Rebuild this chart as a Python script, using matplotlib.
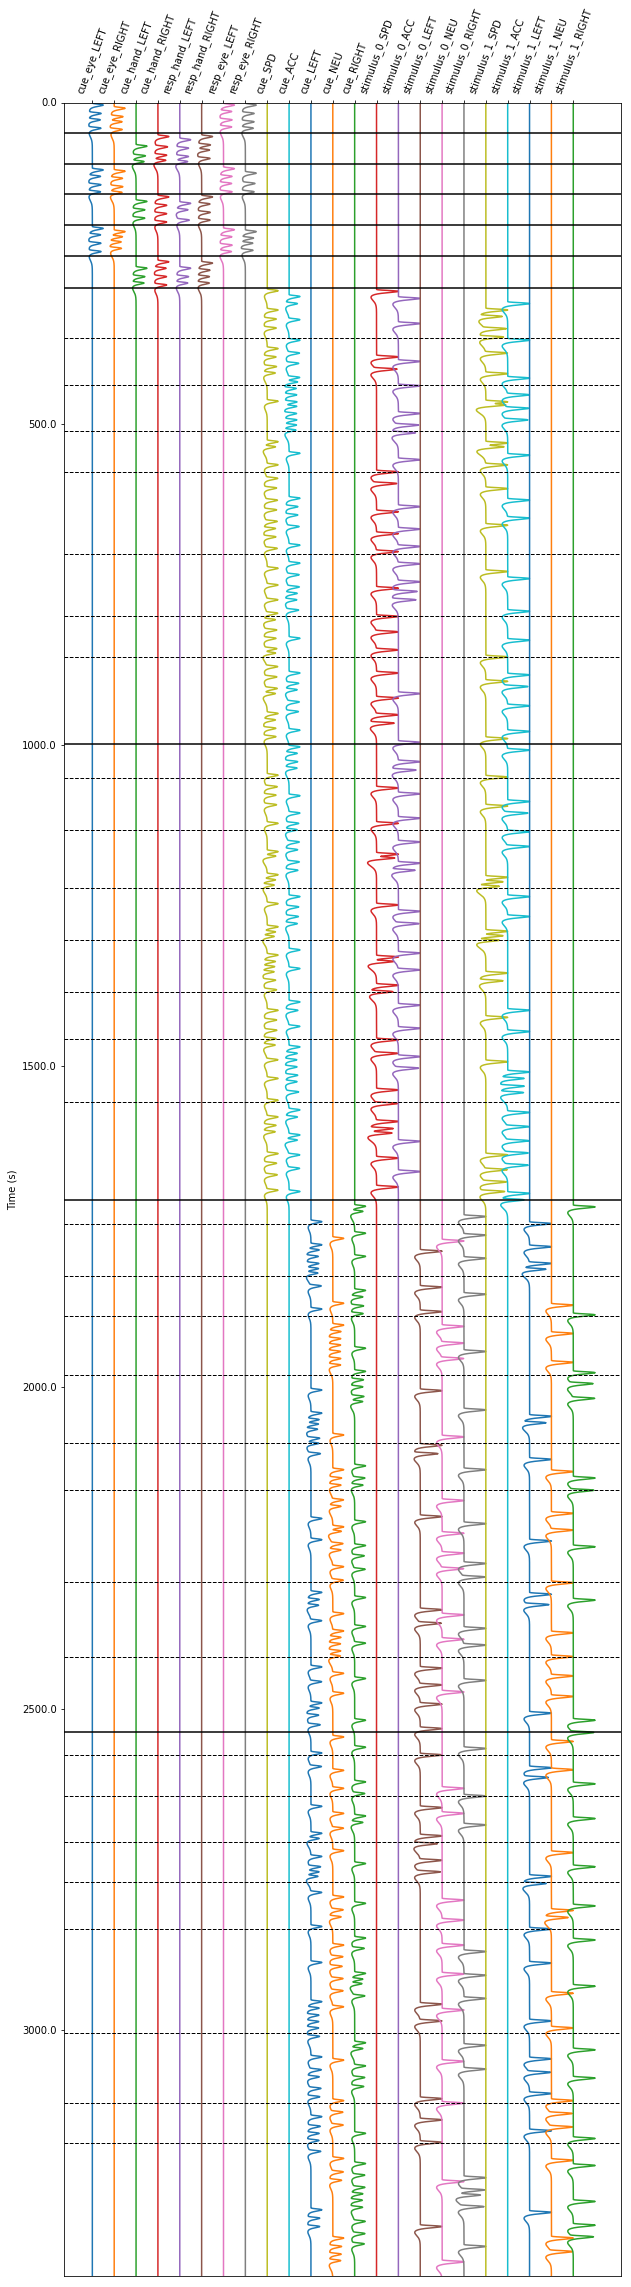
import math
import numpy as np
import matplotlib
matplotlib.use('Agg')
import matplotlib.pyplot as plt

# Regressor names (one column each)
regressors = ['cue_eye_LEFT', 'cue_eye_RIGHT', 'cue_hand_LEFT', 'cue_hand_RIGHT',
              'resp_hand_LEFT', 'resp_hand_RIGHT', 'resp_eye_LEFT', 'resp_eye_RIGHT',
              'cue_SPD', 'cue_ACC', 'cue_LEFT', 'cue_NEU', 'cue_RIGHT',
              'stimulus_0_SPD', 'stimulus_0_ACC', 'stimulus_0_LEFT', 'stimulus_0_NEU',
              'stimulus_0_RIGHT', 'stimulus_1_SPD', 'stimulus_1_ACC', 'stimulus_1_LEFT',
              'stimulus_1_NEU', 'stimulus_1_RIGHT']

# Response peak times (s), per regressor
cue_eye_LEFT = [4, 17, 27, 40, 105, 115, 128, 139, 196, 206, 219, 232]
cue_eye_RIGHT = [9, 22, 30, 42, 107, 118, 131, 140, 201, 209, 217, 227]
cue_hand_LEFT = [68, 83, 92, 154, 167, 180, 258, 271, 281]
cue_hand_RIGHT = [53, 69, 82, 90, 147, 160, 173, 186, 248, 258, 271, 284]
resp_hand_LEFT = [58, 71, 84, 92, 157, 167, 183, 258, 271, 281]
resp_hand_RIGHT = [53, 66, 74, 87, 147, 158, 171, 183, 250, 261, 271, 281]
resp_eye_LEFT = [4, 14, 27, 38, 103, 115, 126, 139, 198, 209, 222, 232]
resp_eye_RIGHT = [4, 17, 30, 40, 110, 126, 139, 201, 211, 219, 230]
cue_SPD = [293, 323, 337, 351, 383, 396, 411, 421, 465, 528, 536, 564, 585, 600, 619, 634,
           652, 663, 676, 694, 725, 751, 774, 795, 805, 821, 834, 850, 857, 878, 894, 912,
           920, 951, 961, 974, 987, 1047, 1065, 1078, 1093, 1122, 1166, 1173, 1202, 1210,
           1218, 1247, 1283, 1291, 1298, 1327, 1337, 1345, 1353, 1366, 1381, 1413, 1428,
           1444, 1457, 1467, 1490, 1519, 1553, 1579, 1592, 1602, 1636, 1651, 1669, 1693]
cue_ACC = [302, 313, 338, 370, 390, 406, 428, 435, 445, 455, 466, 473, 484, 494, 502, 510,
           546, 616, 629, 642, 660, 689, 717, 735, 754, 764, 774, 790, 834, 888, 904, 914,
           933, 948, 977, 1003, 1013, 1026, 1036, 1079, 1106, 1122, 1132, 1151, 1163, 1182,
           1195, 1236, 1252, 1267, 1278, 1319, 1348, 1400, 1413, 1438, 1470, 1480, 1490,
           1501, 1514, 1524, 1540, 1568, 1579, 1607, 1615, 1638, 1659, 1695]
cue_LEFT = [1742, 1778, 1786, 1796, 1807, 1815, 1822, 1842, 1878, 2004, 2040, 2050, 2057,
            2065, 2079, 2087, 2103, 2204, 2237, 2319, 2330, 2339, 2363, 2435, 2458, 2491,
            2499, 2510, 2525, 2569, 2590, 2652, 2694, 2702, 2730, 2746, 2754, 2761, 2786,
            2839, 2895, 2956, 2966, 2977, 2987, 2997, 3010, 3042, 3062, 3073, 3091, 3104,
            3135, 3150, 3161, 3172, 3189, 3280, 3293, 3306]
cue_NEU = [1768, 1869, 1903, 1913, 1924, 1934, 1944, 1955, 1965, 2074, 2128, 2141, 2152,
           2175, 2185, 2217, 2224, 2243, 2253, 2279, 2300, 2352, 2379, 2389, 2399, 2410,
           2418, 2445, 2476, 2544, 2596, 2624, 2663, 2686, 2721, 2793, 2813, 2824, 2868,
           2886, 2901, 2920, 2939, 2964, 3047, 3110, 3128, 3148, 3200, 3221, 3234, 3324,
           3337, 3349, 3359]
cue_RIGHT = [1718, 1726, 1760, 1796, 1849, 1859, 1873, 1885, 1939, 1975, 1988, 1999, 2014,
             2022, 2122, 2141, 2152, 2209, 2246, 2262, 2283, 2327, 2372, 2398, 2453, 2518,
             2560, 2614, 2632, 2667, 2677, 2741, 2803, 2857, 2873, 2912, 2921, 2928, 2947,
             3020, 3029, 3056, 3074, 3088, 3161, 3208, 3226, 3245, 3255, 3265, 3276, 3298,
             3317, 3333]
stimulus_0_SPD = [294, 396, 415, 575, 593, 637, 671, 699, 756, 800, 824, 852, 888, 927, 953,
                  966, 1067, 1122, 1170, 1176, 1249, 1330, 1337, 1374, 1384, 1459, 1480,
                  1537, 1558, 1586, 1597, 1604, 1643, 1688]
stimulus_0_ACC = [305, 344, 403, 441, 484, 502, 514, 556, 629, 664, 691, 718, 746, 761, 774,
                  920, 996, 1026, 1039, 1076, 1114, 1151, 1184, 1195, 1259, 1278, 1324, 1350,
                  1405, 1441, 1485, 1503, 1617, 1664]
stimulus_0_LEFT = [1788, 1844, 1882, 2005, 2090, 2103, 2201, 2346, 2367, 2437, 2463, 2493,
                   2531, 2572, 2654, 2698, 2710, 2736, 2754, 2960, 2986, 3107, 3140, 3175,
                   3306]
stimulus_0_NEU = [1772, 1905, 1931, 1955, 2077, 2176, 2227, 2258, 2282, 2354, 2392, 2474,
                  2624, 2663, 2798, 2829, 2868, 2913, 2969, 3049, 3114, 3236, 3361]
stimulus_0_RIGHT = [1734, 1763, 1799, 1855, 1944, 2035, 2128, 2212, 2274, 2295, 2375, 2401,
                    2456, 2562, 2636, 2681, 2878, 2915, 2951, 3024, 3061, 3230, 3249, 3257,
                    3275, 3337]
stimulus_1_SPD = [323, 333, 352, 365, 390, 422, 466, 471, 530, 536, 564, 601, 658, 730, 863,
                  901, 990, 1050, 1095, 1206, 1213, 1220, 1290, 1297, 1304, 1355, 1367, 1424,
                  1493, 1638, 1661, 1680, 1695]
stimulus_1_ACC = [313, 370, 429, 455, 476, 494, 549, 619, 647, 741, 792, 837, 891, 909, 939,
                  979, 1008, 1088, 1106, 1135, 1158, 1236, 1267, 1413, 1446, 1509, 1519, 1531,
                  1541, 1572, 1594, 1616, 1635, 1654, 1698, 1708]
stimulus_1_LEFT = [1745, 1781, 1807, 1816, 2045, 2055, 2112, 2239, 2322, 2338, 2507, 2592,
                   2607, 2761, 2772, 2843, 2896, 2986, 3045, 3066, 3099, 3157, 3284]
stimulus_1_NEU = [1872, 1916, 1961, 2131, 2196, 2222, 2304, 2382, 2419, 2449, 2481, 2551,
                  2595, 2724, 2814, 2825, 2943, 2997, 3110, 3130, 3151, 3203, 3324, 3345]
stimulus_1_RIGHT = [1719, 1887, 1977, 1994, 2017, 2141, 2160, 2248, 2331, 2518, 2537, 2617,
                    2671, 2746, 2807, 2860, 2932, 3031, 3075, 3169, 3211, 3267, 3304, 3322]

events = [cue_eye_LEFT, cue_eye_RIGHT, cue_hand_LEFT, cue_hand_RIGHT,
          resp_hand_LEFT, resp_hand_RIGHT, resp_eye_LEFT, resp_eye_RIGHT,
          cue_SPD, cue_ACC, cue_LEFT, cue_NEU, cue_RIGHT,
          stimulus_0_SPD, stimulus_0_ACC, stimulus_0_LEFT, stimulus_0_NEU, stimulus_0_RIGHT,
          stimulus_1_SPD, stimulus_1_ACC, stimulus_1_LEFT, stimulus_1_NEU, stimulus_1_RIGHT]

# Peak height of a single response, per regressor (fraction of column spacing)
peak_height = [0.5] * 13 + [1.0] * 10

# Run boundaries (solid) and block boundaries (dashed), in seconds
run_lines = [48, 96, 143, 191, 239, 288, 998, 1708, 2536]
block_lines = [367, 440, 511, 575, 702, 800, 863,
               1052, 1133, 1223, 1304, 1385, 1457, 1556,
               1745, 1826, 1889, 1980, 2087, 2160, 2303, 2420,
               2572, 2636, 2708, 2770, 2843, 3005, 3113, 3176]

t_end = 3383
dt = 0.5


def gamma_pdf(t, shape, scale):
    out = np.zeros_like(t)
    pos = t > 0
    x = t[pos] / scale
    out[pos] = np.exp((shape - 1) * np.log(x) - x - math.lgamma(shape)) / scale
    return out


# Double-gamma response shape (sharp peak, long undershoot), peak = 1
hrf_t = np.arange(0, 40, dt)
hrf = gamma_pdf(hrf_t, 6, 0.7) - 0.76 * gamma_pdf(hrf_t, 8, 1.8)
hrf /= hrf.max()
lag = hrf_t[hrf.argmax()]

frame_times = np.arange(0, t_end + dt, dt)

# Figure
W, H, DPI = 631, 2287, 72
fig = plt.figure(figsize=(W / DPI, H / DPI), dpi=DPI)
ax = fig.add_axes([63.7 / W, 1 - 2276 / H, (620.7 - 63.7) / W, (2276 - 102.5) / H])

for i, (name, peaks) in enumerate(zip(regressors, events)):
    sticks = np.zeros(len(frame_times))
    for p in peaks:
        idx = int(round((p - lag) / dt))
        if 0 <= idx < len(sticks):
            sticks[idx] += 1
    signal = np.convolve(sticks, hrf)[:len(frame_times)]
    ax.plot(i + peak_height[i] * signal, frame_times, color='C%d' % (i % 10), lw=1.5)

for y in run_lines:
    ax.axhline(y, color='k', lw=1.5)
for y in block_lines:
    ax.axhline(y, color='k', ls='--', lw=1.0)

ax.set_xlim(-1.31, 24.17)
ax.set_ylim(t_end, 0)
ax.xaxis.tick_top()
ax.set_xticks(range(len(regressors)))
ax.set_xticklabels(regressors, rotation=70)
ax.set_yticks(np.arange(0, 3001, 500))
ax.set_yticklabels(['%.1f' % v for v in np.arange(0, 3001, 500)])
ax.set_ylabel('Time (s)')

plt.savefig('out.png', dpi=DPI)
